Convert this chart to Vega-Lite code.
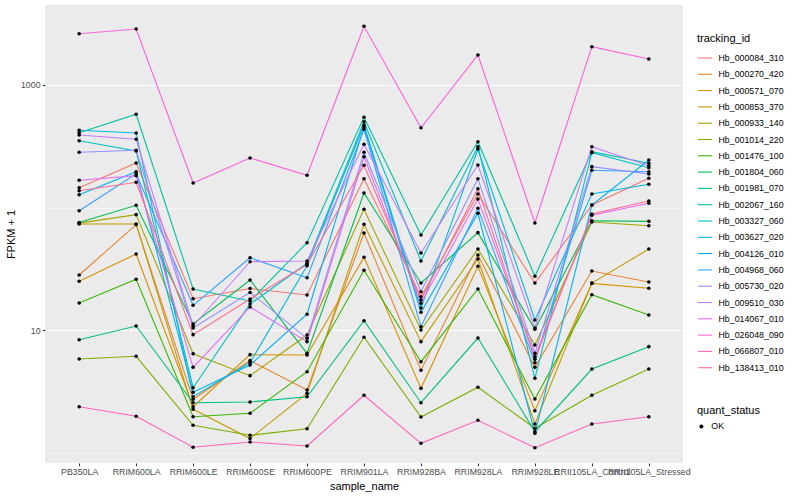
{
"$schema": "https://vega.github.io/schema/vega-lite/v6.json",
"width": 638, "height": 458,
"autosize": {"type": "none"},
"padding": {"left": 45, "top": 5, "right": 117, "bottom": 37},
"background": "white",
"config": {
 "font": "Liberation Sans",
 "view": {"fill": "#EBEBEB", "stroke": null},
 "axis": {"domain": false, "labelColor": "#4D4D4D", "labelFontSize": 8.8, "tickColor": "#333333", "tickSize": 2.75, "tickWidth": 1.07, "labelPadding": 2.2, "gridColor": "#FFFFFF", "gridWidth": 1.07, "titleFontSize": 11, "titleFontWeight": "normal", "titleColor": "#000000"},
 "legend": {"titleFontSize": 11, "titleFontWeight": "normal", "titleColor": "#000000", "labelFontSize": 8.8, "labelColor": "#000000", "padding": 0, "titlePadding": 6, "rowPadding": 3.3, "labelOffset": 5.5}
},
"data": {"values": [
{"tracking_id":"Hb_000084_310","sample_name":"PB350LA","fpkm":145.1,"quant_status":"OK"},
{"tracking_id":"Hb_000084_310","sample_name":"RRIM600LA","fpkm":230.9,"quant_status":"OK"},
{"tracking_id":"Hb_000084_310","sample_name":"RRIM600LE","fpkm":18.01,"quant_status":"OK"},
{"tracking_id":"Hb_000084_310","sample_name":"RRIM600SE","fpkm":21.82,"quant_status":"OK"},
{"tracking_id":"Hb_000084_310","sample_name":"RRIM600PE","fpkm":19.31,"quant_status":"OK"},
{"tracking_id":"Hb_000084_310","sample_name":"RRIM901LA","fpkm":171.9,"quant_status":"OK"},
{"tracking_id":"Hb_000084_310","sample_name":"RRIM928BA","fpkm":18.70,"quant_status":"OK"},
{"tracking_id":"Hb_000084_310","sample_name":"RRIM928LA","fpkm":128.9,"quant_status":"OK"},
{"tracking_id":"Hb_000084_310","sample_name":"RRIM928LE","fpkm":24.19,"quant_status":"OK"},
{"tracking_id":"Hb_000084_310","sample_name":"RRII105LA_Control","fpkm":104.8,"quant_status":"OK"},
{"tracking_id":"Hb_000084_310","sample_name":"RRII105LA_Stressed","fpkm":173.1,"quant_status":"OK"},
{"tracking_id":"Hb_000270_420","sample_name":"PB350LA","fpkm":28.12,"quant_status":"OK"},
{"tracking_id":"Hb_000270_420","sample_name":"RRIM600LA","fpkm":72.5,"quant_status":"OK"},
{"tracking_id":"Hb_000270_420","sample_name":"RRIM600LE","fpkm":2.718,"quant_status":"OK"},
{"tracking_id":"Hb_000270_420","sample_name":"RRIM600SE","fpkm":5.64,"quant_status":"OK"},
{"tracking_id":"Hb_000270_420","sample_name":"RRIM600PE","fpkm":3.24,"quant_status":"OK"},
{"tracking_id":"Hb_000270_420","sample_name":"RRIM901LA","fpkm":61.9,"quant_status":"OK"},
{"tracking_id":"Hb_000270_420","sample_name":"RRIM928BA","fpkm":4.69,"quant_status":"OK"},
{"tracking_id":"Hb_000270_420","sample_name":"RRIM928LA","fpkm":40.95,"quant_status":"OK"},
{"tracking_id":"Hb_000270_420","sample_name":"RRIM928LE","fpkm":4.96,"quant_status":"OK"},
{"tracking_id":"Hb_000270_420","sample_name":"RRII105LA_Control","fpkm":30.31,"quant_status":"OK"},
{"tracking_id":"Hb_000270_420","sample_name":"RRII105LA_Stressed","fpkm":24.64,"quant_status":"OK"},
{"tracking_id":"Hb_000571_070","sample_name":"PB350LA","fpkm":24.97,"quant_status":"OK"},
{"tracking_id":"Hb_000571_070","sample_name":"RRIM600LA","fpkm":41.73,"quant_status":"OK"},
{"tracking_id":"Hb_000571_070","sample_name":"RRIM600LE","fpkm":2.365,"quant_status":"OK"},
{"tracking_id":"Hb_000571_070","sample_name":"RRIM600SE","fpkm":6.29,"quant_status":"OK"},
{"tracking_id":"Hb_000571_070","sample_name":"RRIM600PE","fpkm":6.25,"quant_status":"OK"},
{"tracking_id":"Hb_000571_070","sample_name":"RRIM901LA","fpkm":39.21,"quant_status":"OK"},
{"tracking_id":"Hb_000571_070","sample_name":"RRIM928BA","fpkm":3.34,"quant_status":"OK"},
{"tracking_id":"Hb_000571_070","sample_name":"RRIM928LA","fpkm":33.11,"quant_status":"OK"},
{"tracking_id":"Hb_000571_070","sample_name":"RRIM928LE","fpkm":2.194,"quant_status":"OK"},
{"tracking_id":"Hb_000571_070","sample_name":"RRII105LA_Control","fpkm":24.0,"quant_status":"OK"},
{"tracking_id":"Hb_000571_070","sample_name":"RRII105LA_Stressed","fpkm":21.90,"quant_status":"OK"},
{"tracking_id":"Hb_000853_370","sample_name":"PB350LA","fpkm":73.3,"quant_status":"OK"},
{"tracking_id":"Hb_000853_370","sample_name":"RRIM600LA","fpkm":73.3,"quant_status":"OK"},
{"tracking_id":"Hb_000853_370","sample_name":"RRIM600LE","fpkm":2.253,"quant_status":"OK"},
{"tracking_id":"Hb_000853_370","sample_name":"RRIM600SE","fpkm":1.301,"quant_status":"OK"},
{"tracking_id":"Hb_000853_370","sample_name":"RRIM600PE","fpkm":3.04,"quant_status":"OK"},
{"tracking_id":"Hb_000853_370","sample_name":"RRIM901LA","fpkm":72.9,"quant_status":"OK"},
{"tracking_id":"Hb_000853_370","sample_name":"RRIM928BA","fpkm":8.03,"quant_status":"OK"},
{"tracking_id":"Hb_000853_370","sample_name":"RRIM928LA","fpkm":37.98,"quant_status":"OK"},
{"tracking_id":"Hb_000853_370","sample_name":"RRIM928LE","fpkm":1.709,"quant_status":"OK"},
{"tracking_id":"Hb_000853_370","sample_name":"RRII105LA_Control","fpkm":24.19,"quant_status":"OK"},
{"tracking_id":"Hb_000853_370","sample_name":"RRII105LA_Stressed","fpkm":45.8,"quant_status":"OK"},
{"tracking_id":"Hb_000933_140","sample_name":"PB350LA","fpkm":74.5,"quant_status":"OK"},
{"tracking_id":"Hb_000933_140","sample_name":"RRIM600LA","fpkm":87.4,"quant_status":"OK"},
{"tracking_id":"Hb_000933_140","sample_name":"RRIM600LE","fpkm":6.40,"quant_status":"OK"},
{"tracking_id":"Hb_000933_140","sample_name":"RRIM600SE","fpkm":4.24,"quant_status":"OK"},
{"tracking_id":"Hb_000933_140","sample_name":"RRIM600PE","fpkm":9.10,"quant_status":"OK"},
{"tracking_id":"Hb_000933_140","sample_name":"RRIM901LA","fpkm":96.7,"quant_status":"OK"},
{"tracking_id":"Hb_000933_140","sample_name":"RRIM928BA","fpkm":10.0,"quant_status":"OK"},
{"tracking_id":"Hb_000933_140","sample_name":"RRIM928LA","fpkm":45.8,"quant_status":"OK"},
{"tracking_id":"Hb_000933_140","sample_name":"RRIM928LE","fpkm":7.54,"quant_status":"OK"},
{"tracking_id":"Hb_000933_140","sample_name":"RRII105LA_Control","fpkm":76.1,"quant_status":"OK"},
{"tracking_id":"Hb_000933_140","sample_name":"RRII105LA_Stressed","fpkm":71.0,"quant_status":"OK"},
{"tracking_id":"Hb_001014_220","sample_name":"PB350LA","fpkm":5.80,"quant_status":"OK"},
{"tracking_id":"Hb_001014_220","sample_name":"RRIM600LA","fpkm":6.10,"quant_status":"OK"},
{"tracking_id":"Hb_001014_220","sample_name":"RRIM600LE","fpkm":1.667,"quant_status":"OK"},
{"tracking_id":"Hb_001014_220","sample_name":"RRIM600SE","fpkm":1.382,"quant_status":"OK"},
{"tracking_id":"Hb_001014_220","sample_name":"RRIM600PE","fpkm":1.564,"quant_status":"OK"},
{"tracking_id":"Hb_001014_220","sample_name":"RRIM901LA","fpkm":8.72,"quant_status":"OK"},
{"tracking_id":"Hb_001014_220","sample_name":"RRIM928BA","fpkm":1.949,"quant_status":"OK"},
{"tracking_id":"Hb_001014_220","sample_name":"RRIM928LA","fpkm":3.41,"quant_status":"OK"},
{"tracking_id":"Hb_001014_220","sample_name":"RRIM928LE","fpkm":1.576,"quant_status":"OK"},
{"tracking_id":"Hb_001014_220","sample_name":"RRII105LA_Control","fpkm":2.93,"quant_status":"OK"},
{"tracking_id":"Hb_001014_220","sample_name":"RRII105LA_Stressed","fpkm":4.80,"quant_status":"OK"},
{"tracking_id":"Hb_001476_100","sample_name":"PB350LA","fpkm":16.61,"quant_status":"OK"},
{"tracking_id":"Hb_001476_100","sample_name":"RRIM600LA","fpkm":25.94,"quant_status":"OK"},
{"tracking_id":"Hb_001476_100","sample_name":"RRIM600LE","fpkm":1.960,"quant_status":"OK"},
{"tracking_id":"Hb_001476_100","sample_name":"RRIM600SE","fpkm":2.089,"quant_status":"OK"},
{"tracking_id":"Hb_001476_100","sample_name":"RRIM600PE","fpkm":4.566,"quant_status":"OK"},
{"tracking_id":"Hb_001476_100","sample_name":"RRIM901LA","fpkm":30.71,"quant_status":"OK"},
{"tracking_id":"Hb_001476_100","sample_name":"RRIM928BA","fpkm":5.51,"quant_status":"OK"},
{"tracking_id":"Hb_001476_100","sample_name":"RRIM928LA","fpkm":21.61,"quant_status":"OK"},
{"tracking_id":"Hb_001476_100","sample_name":"RRIM928LE","fpkm":2.733,"quant_status":"OK"},
{"tracking_id":"Hb_001476_100","sample_name":"RRII105LA_Control","fpkm":19.42,"quant_status":"OK"},
{"tracking_id":"Hb_001476_100","sample_name":"RRII105LA_Stressed","fpkm":13.26,"quant_status":"OK"},
{"tracking_id":"Hb_001804_060","sample_name":"PB350LA","fpkm":75.4,"quant_status":"OK"},
{"tracking_id":"Hb_001804_060","sample_name":"RRIM600LA","fpkm":104.2,"quant_status":"OK"},
{"tracking_id":"Hb_001804_060","sample_name":"RRIM600LE","fpkm":11.19,"quant_status":"OK"},
{"tracking_id":"Hb_001804_060","sample_name":"RRIM600SE","fpkm":25.60,"quant_status":"OK"},
{"tracking_id":"Hb_001804_060","sample_name":"RRIM600PE","fpkm":6.45,"quant_status":"OK"},
{"tracking_id":"Hb_001804_060","sample_name":"RRIM901LA","fpkm":131.3,"quant_status":"OK"},
{"tracking_id":"Hb_001804_060","sample_name":"RRIM928BA","fpkm":24.19,"quant_status":"OK"},
{"tracking_id":"Hb_001804_060","sample_name":"RRIM928LA","fpkm":62.3,"quant_status":"OK"},
{"tracking_id":"Hb_001804_060","sample_name":"RRIM928LE","fpkm":10.13,"quant_status":"OK"},
{"tracking_id":"Hb_001804_060","sample_name":"RRII105LA_Control","fpkm":78.0,"quant_status":"OK"},
{"tracking_id":"Hb_001804_060","sample_name":"RRII105LA_Stressed","fpkm":77.1,"quant_status":"OK"},
{"tracking_id":"Hb_001981_070","sample_name":"PB350LA","fpkm":8.33,"quant_status":"OK"},
{"tracking_id":"Hb_001981_070","sample_name":"RRIM600LA","fpkm":10.78,"quant_status":"OK"},
{"tracking_id":"Hb_001981_070","sample_name":"RRIM600LE","fpkm":2.550,"quant_status":"OK"},
{"tracking_id":"Hb_001981_070","sample_name":"RRIM600SE","fpkm":2.584,"quant_status":"OK"},
{"tracking_id":"Hb_001981_070","sample_name":"RRIM600PE","fpkm":2.854,"quant_status":"OK"},
{"tracking_id":"Hb_001981_070","sample_name":"RRIM901LA","fpkm":11.91,"quant_status":"OK"},
{"tracking_id":"Hb_001981_070","sample_name":"RRIM928BA","fpkm":2.550,"quant_status":"OK"},
{"tracking_id":"Hb_001981_070","sample_name":"RRIM928LA","fpkm":8.60,"quant_status":"OK"},
{"tracking_id":"Hb_001981_070","sample_name":"RRIM928LE","fpkm":1.478,"quant_status":"OK"},
{"tracking_id":"Hb_001981_070","sample_name":"RRII105LA_Control","fpkm":4.80,"quant_status":"OK"},
{"tracking_id":"Hb_001981_070","sample_name":"RRII105LA_Stressed","fpkm":7.31,"quant_status":"OK"},
{"tracking_id":"Hb_002067_160","sample_name":"PB350LA","fpkm":407.9,"quant_status":"OK"},
{"tracking_id":"Hb_002067_160","sample_name":"RRIM600LA","fpkm":576.6,"quant_status":"OK"},
{"tracking_id":"Hb_002067_160","sample_name":"RRIM600LE","fpkm":21.61,"quant_status":"OK"},
{"tracking_id":"Hb_002067_160","sample_name":"RRIM600SE","fpkm":17.25,"quant_status":"OK"},
{"tracking_id":"Hb_002067_160","sample_name":"RRIM600PE","fpkm":51.6,"quant_status":"OK"},
{"tracking_id":"Hb_002067_160","sample_name":"RRIM901LA","fpkm":544.9,"quant_status":"OK"},
{"tracking_id":"Hb_002067_160","sample_name":"RRIM928BA","fpkm":59.6,"quant_status":"OK"},
{"tracking_id":"Hb_002067_160","sample_name":"RRIM928LA","fpkm":344.5,"quant_status":"OK"},
{"tracking_id":"Hb_002067_160","sample_name":"RRIM928LE","fpkm":27.44,"quant_status":"OK"},
{"tracking_id":"Hb_002067_160","sample_name":"RRII105LA_Control","fpkm":285.4,"quant_status":"OK"},
{"tracking_id":"Hb_002067_160","sample_name":"RRII105LA_Stressed","fpkm":229.6,"quant_status":"OK"},
{"tracking_id":"Hb_003327_060","sample_name":"PB350LA","fpkm":351.1,"quant_status":"OK"},
{"tracking_id":"Hb_003327_060","sample_name":"RRIM600LA","fpkm":289.2,"quant_status":"OK"},
{"tracking_id":"Hb_003327_060","sample_name":"RRIM600LE","fpkm":3.381,"quant_status":"OK"},
{"tracking_id":"Hb_003327_060","sample_name":"RRIM600SE","fpkm":16.30,"quant_status":"OK"},
{"tracking_id":"Hb_003327_060","sample_name":"RRIM600PE","fpkm":35.04,"quant_status":"OK"},
{"tracking_id":"Hb_003327_060","sample_name":"RRIM901LA","fpkm":501.8,"quant_status":"OK"},
{"tracking_id":"Hb_003327_060","sample_name":"RRIM928BA","fpkm":36.59,"quant_status":"OK"},
{"tracking_id":"Hb_003327_060","sample_name":"RRIM928LA","fpkm":313.6,"quant_status":"OK"},
{"tracking_id":"Hb_003327_060","sample_name":"RRIM928LE","fpkm":4.034,"quant_status":"OK"},
{"tracking_id":"Hb_003327_060","sample_name":"RRII105LA_Control","fpkm":280.1,"quant_status":"OK"},
{"tracking_id":"Hb_003327_060","sample_name":"RRII105LA_Stressed","fpkm":211.3,"quant_status":"OK"},
{"tracking_id":"Hb_003627_020","sample_name":"PB350LA","fpkm":426.7,"quant_status":"OK"},
{"tracking_id":"Hb_003627_020","sample_name":"RRIM600LA","fpkm":405.6,"quant_status":"OK"},
{"tracking_id":"Hb_003627_020","sample_name":"RRIM600LE","fpkm":2.854,"quant_status":"OK"},
{"tracking_id":"Hb_003627_020","sample_name":"RRIM600SE","fpkm":5.43,"quant_status":"OK"},
{"tracking_id":"Hb_003627_020","sample_name":"RRIM600PE","fpkm":33.49,"quant_status":"OK"},
{"tracking_id":"Hb_003627_020","sample_name":"RRIM901LA","fpkm":471.6,"quant_status":"OK"},
{"tracking_id":"Hb_003627_020","sample_name":"RRIM928BA","fpkm":15.12,"quant_status":"OK"},
{"tracking_id":"Hb_003627_020","sample_name":"RRIM928LA","fpkm":300.4,"quant_status":"OK"},
{"tracking_id":"Hb_003627_020","sample_name":"RRIM928LE","fpkm":12.07,"quant_status":"OK"},
{"tracking_id":"Hb_003627_020","sample_name":"RRII105LA_Control","fpkm":128.9,"quant_status":"OK"},
{"tracking_id":"Hb_003627_020","sample_name":"RRII105LA_Stressed","fpkm":154.7,"quant_status":"OK"},
{"tracking_id":"Hb_004126_010","sample_name":"PB350LA","fpkm":127.2,"quant_status":"OK"},
{"tracking_id":"Hb_004126_010","sample_name":"RRIM600LA","fpkm":196.0,"quant_status":"OK"},
{"tracking_id":"Hb_004126_010","sample_name":"RRIM600LE","fpkm":3.10,"quant_status":"OK"},
{"tracking_id":"Hb_004126_010","sample_name":"RRIM600SE","fpkm":5.18,"quant_status":"OK"},
{"tracking_id":"Hb_004126_010","sample_name":"RRIM600PE","fpkm":13.44,"quant_status":"OK"},
{"tracking_id":"Hb_004126_010","sample_name":"RRIM901LA","fpkm":456.6,"quant_status":"OK"},
{"tracking_id":"Hb_004126_010","sample_name":"RRIM928BA","fpkm":13.95,"quant_status":"OK"},
{"tracking_id":"Hb_004126_010","sample_name":"RRIM928LA","fpkm":89.7,"quant_status":"OK"},
{"tracking_id":"Hb_004126_010","sample_name":"RRIM928LE","fpkm":1.434,"quant_status":"OK"},
{"tracking_id":"Hb_004126_010","sample_name":"RRII105LA_Control","fpkm":104.8,"quant_status":"OK"},
{"tracking_id":"Hb_004126_010","sample_name":"RRII105LA_Stressed","fpkm":244.2,"quant_status":"OK"},
{"tracking_id":"Hb_004968_060","sample_name":"PB350LA","fpkm":94.2,"quant_status":"OK"},
{"tracking_id":"Hb_004968_060","sample_name":"RRIM600LA","fpkm":188.7,"quant_status":"OK"},
{"tracking_id":"Hb_004968_060","sample_name":"RRIM600LE","fpkm":15.91,"quant_status":"OK"},
{"tracking_id":"Hb_004968_060","sample_name":"RRIM600SE","fpkm":38.92,"quant_status":"OK"},
{"tracking_id":"Hb_004968_060","sample_name":"RRIM600PE","fpkm":26.73,"quant_status":"OK"},
{"tracking_id":"Hb_004968_060","sample_name":"RRIM901LA","fpkm":434.8,"quant_status":"OK"},
{"tracking_id":"Hb_004968_060","sample_name":"RRIM928BA","fpkm":10.64,"quant_status":"OK"},
{"tracking_id":"Hb_004968_060","sample_name":"RRIM928LA","fpkm":98.5,"quant_status":"OK"},
{"tracking_id":"Hb_004968_060","sample_name":"RRIM928LE","fpkm":5.41,"quant_status":"OK"},
{"tracking_id":"Hb_004968_060","sample_name":"RRII105LA_Control","fpkm":201.2,"quant_status":"OK"},
{"tracking_id":"Hb_004968_060","sample_name":"RRII105LA_Stressed","fpkm":196.0,"quant_status":"OK"},
{"tracking_id":"Hb_005730_020","sample_name":"PB350LA","fpkm":282.2,"quant_status":"OK"},
{"tracking_id":"Hb_005730_020","sample_name":"RRIM600LA","fpkm":293.0,"quant_status":"OK"},
{"tracking_id":"Hb_005730_020","sample_name":"RRIM600LE","fpkm":10.38,"quant_status":"OK"},
{"tracking_id":"Hb_005730_020","sample_name":"RRIM600SE","fpkm":20.24,"quant_status":"OK"},
{"tracking_id":"Hb_005730_020","sample_name":"RRIM600PE","fpkm":8.55,"quant_status":"OK"},
{"tracking_id":"Hb_005730_020","sample_name":"RRIM901LA","fpkm":282.2,"quant_status":"OK"},
{"tracking_id":"Hb_005730_020","sample_name":"RRIM928BA","fpkm":20.54,"quant_status":"OK"},
{"tracking_id":"Hb_005730_020","sample_name":"RRIM928LA","fpkm":171.9,"quant_status":"OK"},
{"tracking_id":"Hb_005730_020","sample_name":"RRIM928LE","fpkm":6.45,"quant_status":"OK"},
{"tracking_id":"Hb_005730_020","sample_name":"RRII105LA_Control","fpkm":215.4,"quant_status":"OK"},
{"tracking_id":"Hb_005730_020","sample_name":"RRII105LA_Stressed","fpkm":187.7,"quant_status":"OK"},
{"tracking_id":"Hb_009510_030","sample_name":"PB350LA","fpkm":390.6,"quant_status":"OK"},
{"tracking_id":"Hb_009510_030","sample_name":"RRIM600LA","fpkm":360.4,"quant_status":"OK"},
{"tracking_id":"Hb_009510_030","sample_name":"RRIM600LE","fpkm":10.78,"quant_status":"OK"},
{"tracking_id":"Hb_009510_030","sample_name":"RRIM600SE","fpkm":36.11,"quant_status":"OK"},
{"tracking_id":"Hb_009510_030","sample_name":"RRIM600PE","fpkm":36.59,"quant_status":"OK"},
{"tracking_id":"Hb_009510_030","sample_name":"RRIM901LA","fpkm":328.1,"quant_status":"OK"},
{"tracking_id":"Hb_009510_030","sample_name":"RRIM928BA","fpkm":42.51,"quant_status":"OK"},
{"tracking_id":"Hb_009510_030","sample_name":"RRIM928LA","fpkm":222.3,"quant_status":"OK"},
{"tracking_id":"Hb_009510_030","sample_name":"RRIM928LE","fpkm":10.38,"quant_status":"OK"},
{"tracking_id":"Hb_009510_030","sample_name":"RRII105LA_Control","fpkm":313.6,"quant_status":"OK"},
{"tracking_id":"Hb_009510_030","sample_name":"RRII105LA_Stressed","fpkm":219.4,"quant_status":"OK"},
{"tracking_id":"Hb_014067_010","sample_name":"PB350LA","fpkm":166.7,"quant_status":"OK"},
{"tracking_id":"Hb_014067_010","sample_name":"RRIM600LA","fpkm":181.8,"quant_status":"OK"},
{"tracking_id":"Hb_014067_010","sample_name":"RRIM600LE","fpkm":4.96,"quant_status":"OK"},
{"tracking_id":"Hb_014067_010","sample_name":"RRIM600SE","fpkm":15.41,"quant_status":"OK"},
{"tracking_id":"Hb_014067_010","sample_name":"RRIM600PE","fpkm":8.03,"quant_status":"OK"},
{"tracking_id":"Hb_014067_010","sample_name":"RRIM901LA","fpkm":259.8,"quant_status":"OK"},
{"tracking_id":"Hb_014067_010","sample_name":"RRIM928BA","fpkm":16.52,"quant_status":"OK"},
{"tracking_id":"Hb_014067_010","sample_name":"RRIM928LA","fpkm":117.3,"quant_status":"OK"},
{"tracking_id":"Hb_014067_010","sample_name":"RRIM928LE","fpkm":6.05,"quant_status":"OK"},
{"tracking_id":"Hb_014067_010","sample_name":"RRII105LA_Control","fpkm":86.4,"quant_status":"OK"},
{"tracking_id":"Hb_014067_010","sample_name":"RRII105LA_Stressed","fpkm":108.2,"quant_status":"OK"},
{"tracking_id":"Hb_026048_090","sample_name":"PB350LA","fpkm":2623,"quant_status":"OK"},
{"tracking_id":"Hb_026048_090","sample_name":"RRIM600LA","fpkm":2865,"quant_status":"OK"},
{"tracking_id":"Hb_026048_090","sample_name":"RRIM600LE","fpkm":158.5,"quant_status":"OK"},
{"tracking_id":"Hb_026048_090","sample_name":"RRIM600SE","fpkm":253.6,"quant_status":"OK"},
{"tracking_id":"Hb_026048_090","sample_name":"RRIM600PE","fpkm":183.2,"quant_status":"OK"},
{"tracking_id":"Hb_026048_090","sample_name":"RRIM901LA","fpkm":3015,"quant_status":"OK"},
{"tracking_id":"Hb_026048_090","sample_name":"RRIM928BA","fpkm":448,"quant_status":"OK"},
{"tracking_id":"Hb_026048_090","sample_name":"RRIM928LA","fpkm":1757,"quant_status":"OK"},
{"tracking_id":"Hb_026048_090","sample_name":"RRIM928LE","fpkm":74.7,"quant_status":"OK"},
{"tracking_id":"Hb_026048_090","sample_name":"RRII105LA_Control","fpkm":2054,"quant_status":"OK"},
{"tracking_id":"Hb_026048_090","sample_name":"RRII105LA_Stressed","fpkm":1630,"quant_status":"OK"},
{"tracking_id":"Hb_066807_010","sample_name":"PB350LA","fpkm":2.365,"quant_status":"OK"},
{"tracking_id":"Hb_066807_010","sample_name":"RRIM600LA","fpkm":1.975,"quant_status":"OK"},
{"tracking_id":"Hb_066807_010","sample_name":"RRIM600LE","fpkm":1.103,"quant_status":"OK"},
{"tracking_id":"Hb_066807_010","sample_name":"RRIM600SE","fpkm":1.218,"quant_status":"OK"},
{"tracking_id":"Hb_066807_010","sample_name":"RRIM600PE","fpkm":1.130,"quant_status":"OK"},
{"tracking_id":"Hb_066807_010","sample_name":"RRIM901LA","fpkm":2.930,"quant_status":"OK"},
{"tracking_id":"Hb_066807_010","sample_name":"RRIM928BA","fpkm":1.189,"quant_status":"OK"},
{"tracking_id":"Hb_066807_010","sample_name":"RRIM928LA","fpkm":1.832,"quant_status":"OK"},
{"tracking_id":"Hb_066807_010","sample_name":"RRIM928LE","fpkm":1.094,"quant_status":"OK"},
{"tracking_id":"Hb_066807_010","sample_name":"RRII105LA_Control","fpkm":1.709,"quant_status":"OK"},
{"tracking_id":"Hb_066807_010","sample_name":"RRII105LA_Stressed","fpkm":1.960,"quant_status":"OK"},
{"tracking_id":"Hb_138413_010","sample_name":"PB350LA","fpkm":137.1,"quant_status":"OK"},
{"tracking_id":"Hb_138413_010","sample_name":"RRIM600LA","fpkm":160.6,"quant_status":"OK"},
{"tracking_id":"Hb_138413_010","sample_name":"RRIM600LE","fpkm":9.16,"quant_status":"OK"},
{"tracking_id":"Hb_138413_010","sample_name":"RRIM600SE","fpkm":17.91,"quant_status":"OK"},
{"tracking_id":"Hb_138413_010","sample_name":"RRIM600PE","fpkm":34.25,"quant_status":"OK"},
{"tracking_id":"Hb_138413_010","sample_name":"RRIM901LA","fpkm":221.1,"quant_status":"OK"},
{"tracking_id":"Hb_138413_010","sample_name":"RRIM928BA","fpkm":17.58,"quant_status":"OK"},
{"tracking_id":"Hb_138413_010","sample_name":"RRIM928LA","fpkm":142.4,"quant_status":"OK"},
{"tracking_id":"Hb_138413_010","sample_name":"RRIM928LE","fpkm":5.77,"quant_status":"OK"},
{"tracking_id":"Hb_138413_010","sample_name":"RRII105LA_Control","fpkm":88.5,"quant_status":"OK"},
{"tracking_id":"Hb_138413_010","sample_name":"RRII105LA_Stressed","fpkm":113.0,"quant_status":"OK"}
]},
"encoding": {
 "x": {"field": "sample_name", "type": "nominal",
  "sort": ["PB350LA","RRIM600LA","RRIM600LE","RRIM600SE","RRIM600PE","RRIM901LA","RRIM928BA","RRIM928LA","RRIM928LE","RRII105LA_Control","RRII105LA_Stressed"],
  "scale": {"type": "point", "padding": 0.6},
  "axis": {"title": "sample_name", "labelAngle": 0, "labelOverlap": false, "titlePadding": 4}},
 "y": {"field": "fpkm", "type": "quantitative",
  "scale": {"type": "log", "domain": [0.821, 4498], "nice": false},
  "axis": {"title": "FPKM + 1", "values": [1, 10, 100, 1000], "titlePadding": 4,
   "labelExpr": "datum.value == 1000 ? '1000' : (datum.value == 10 ? '10' : '')",
   "tickOpacity": {"condition": {"test": "datum.value == 10 || datum.value == 1000", "value": 1}, "value": 0},
   "gridWidth": {"condition": {"test": "datum.value == 10 || datum.value == 1000", "value": 1.07}, "value": 0.53}}}
},
"layer": [
 {"mark": {"type": "line", "strokeWidth": 1.1},
  "encoding": {
   "order": {"value": null},
   "color": {"field": "tracking_id", "type": "nominal",
    "scale": {"domain": ["Hb_000084_310","Hb_000270_420","Hb_000571_070","Hb_000853_370","Hb_000933_140","Hb_001014_220","Hb_001476_100","Hb_001804_060","Hb_001981_070","Hb_002067_160","Hb_003327_060","Hb_003627_020","Hb_004126_010","Hb_004968_060","Hb_005730_020","Hb_009510_030","Hb_014067_010","Hb_026048_090","Hb_066807_010","Hb_138413_010"],
     "range": ["#F8766D","#EA8331","#D89000","#C09B00","#A3A500","#7CAE00","#39B600","#00BB4E","#00BF7D","#00C1A3","#00BFC4","#00BAE0","#00B0F6","#35A2FF","#9590FF","#C77CFF","#E76BF3","#FA62DB","#FF62BC","#FF6C91"]},
    "legend": {"title": "tracking_id", "orient": "none", "legendX": 652, "legendY": 28, "symbolType": "stroke", "symbolSize": 196, "symbolStrokeWidth": 1.1}}}},
 {"mark": {"type": "point", "filled": true, "color": "#000000", "size": 13, "opacity": 1},
  "encoding": {
   "shape": {"field": "quant_status", "type": "nominal", "scale": {"range": ["circle"]},
    "legend": {"title": "quant_status", "orient": "none", "legendX": 652, "legendY": 400, "symbolSize": 16, "symbolFillColor": "#000000", "symbolStrokeColor": "#000000"}}}}
]
}
